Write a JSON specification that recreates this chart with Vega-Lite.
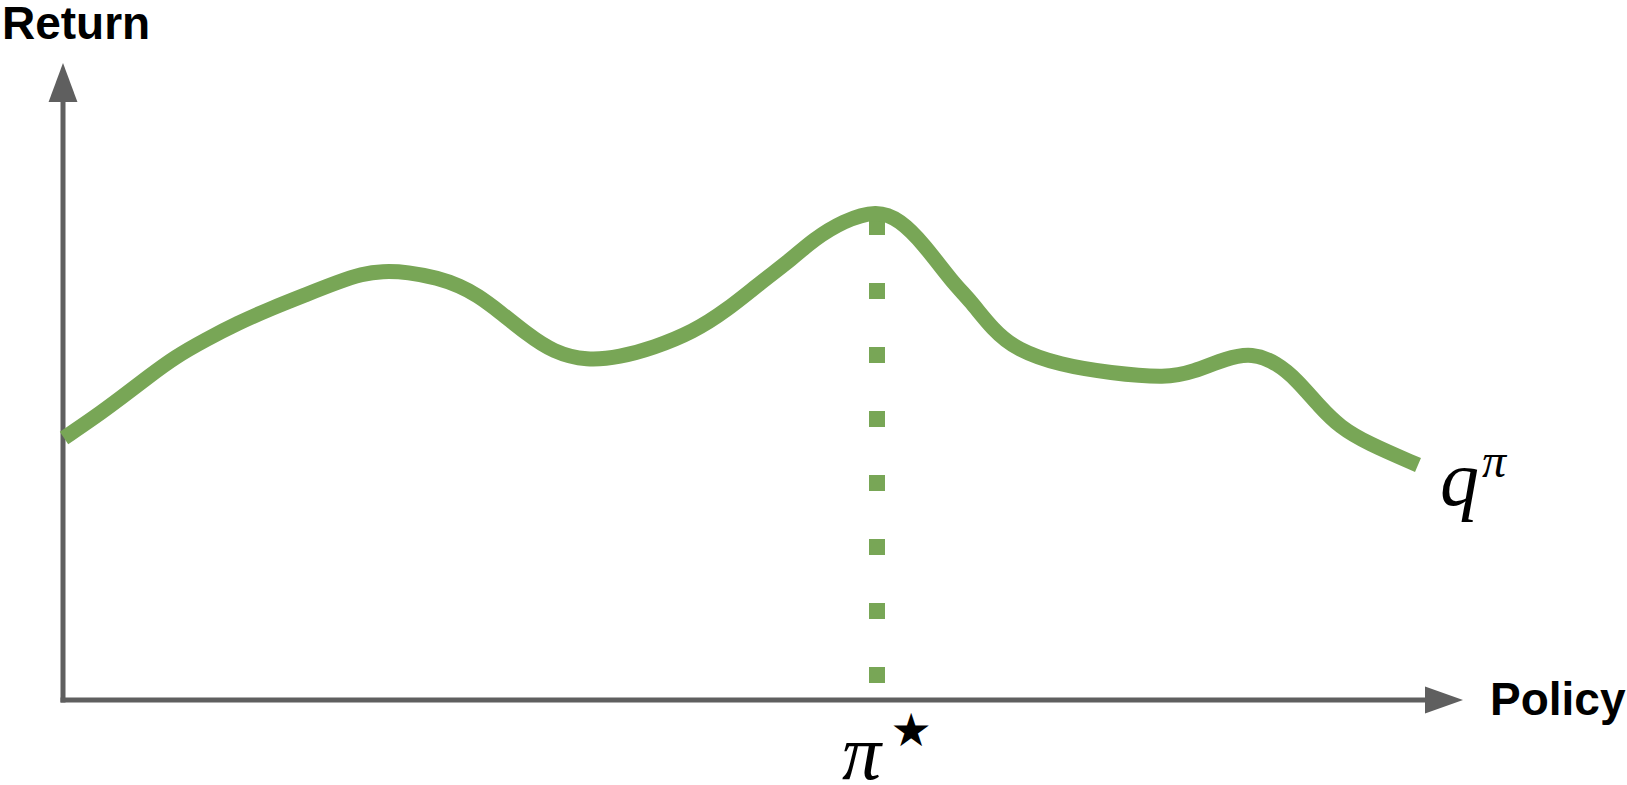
{
  "$schema": "https://vega.github.io/schema/vega-lite/v6.json",
  "width": 1627,
  "height": 785,
  "autosize": "none",
  "padding": 0,
  "background": "white",
  "config": {"view": {"stroke": null}},
  "datasets": {
    "curve": [
      {"policy": 1, "ret": 262}, {"policy": 32, "ret": 283}, {"policy": 59, "ret": 303}, {"policy": 85, "ret": 323},
      {"policy": 112, "ret": 343}, {"policy": 142, "ret": 360}, {"policy": 175, "ret": 377}, {"policy": 209, "ret": 392},
      {"policy": 242, "ret": 405}, {"policy": 275, "ret": 418}, {"policy": 299, "ret": 426}, {"policy": 319, "ret": 429},
      {"policy": 345, "ret": 428}, {"policy": 375, "ret": 422}, {"policy": 397, "ret": 414}, {"policy": 414, "ret": 405},
      {"policy": 437, "ret": 388}, {"policy": 464, "ret": 366}, {"policy": 490, "ret": 348}, {"policy": 524, "ret": 339},
      {"policy": 557, "ret": 343}, {"policy": 590, "ret": 352}, {"policy": 630, "ret": 368}, {"policy": 664, "ret": 390},
      {"policy": 697, "ret": 417}, {"policy": 730, "ret": 442}, {"policy": 750, "ret": 460}, {"policy": 780, "ret": 479},
      {"policy": 814, "ret": 490}, {"policy": 837, "ret": 480}, {"policy": 860, "ret": 457}, {"policy": 890, "ret": 417},
      {"policy": 907, "ret": 400}, {"policy": 930, "ret": 370}, {"policy": 954, "ret": 350}, {"policy": 997, "ret": 335},
      {"policy": 1047, "ret": 327}, {"policy": 1104, "ret": 322}, {"policy": 1130, "ret": 328}, {"policy": 1164, "ret": 342},
      {"policy": 1189, "ret": 347}, {"policy": 1214, "ret": 337}, {"policy": 1234, "ret": 320}, {"policy": 1257, "ret": 293},
      {"policy": 1277, "ret": 273}, {"policy": 1304, "ret": 257}, {"policy": 1355, "ret": 235}
    ],
    "axes": [
      {"name": "return", "x": 0, "x2": 0, "y": -2.5, "y2": 600},
      {"name": "policy", "x": -2.5, "x2": 1365, "y": 0, "y2": 0}
    ],
    "optimum": [{"policy": 814, "low": 17, "high": 485}],
    "titles": [
      {"text": "Return", "x": -61, "y": 661},
      {"text": "Policy", "x": 1427, "y": -15}
    ]
  },
  "layer": [
    {
      "data": {"name": "axes"},
      "mark": {"type": "rule", "color": "#5f5f5f", "strokeWidth": 5, "strokeCap": "butt"},
      "encoding": {
        "x": {"field": "x", "type": "quantitative", "scale": {"domain": [-63, 1564], "nice": false, "zero": false}, "axis": null},
        "x2": {"field": "x2"},
        "y": {"field": "y", "type": "quantitative", "scale": {"domain": [-85, 700], "nice": false, "zero": false}, "axis": null},
        "y2": {"field": "y2"}
      }
    },
    {
      "data": {"values": [{"x": 0, "y": 617.5}]},
      "mark": {"type": "point", "shape": "M0,-1L-0.74,1L0.74,1Z", "size": 1521, "filled": true, "color": "#5f5f5f", "opacity": 1},
      "encoding": {
        "x": {"field": "x", "type": "quantitative", "axis": null},
        "y": {"field": "y", "type": "quantitative", "axis": null}
      }
    },
    {
      "data": {"values": [{"x": 1381, "y": 0}]},
      "mark": {"type": "point", "shape": "M1,0L-1,-0.71L-1,0.71Z", "size": 1444, "filled": true, "color": "#5f5f5f", "opacity": 1},
      "encoding": {
        "x": {"field": "x", "type": "quantitative", "axis": null},
        "y": {"field": "y", "type": "quantitative", "axis": null}
      }
    },
    {
      "data": {"name": "optimum"},
      "mark": {"type": "rule", "color": "#78a656", "strokeWidth": 16, "strokeDash": [16, 48], "strokeCap": "butt"},
      "encoding": {
        "x": {"field": "policy", "type": "quantitative", "axis": null},
        "y": {"field": "low", "type": "quantitative", "axis": null},
        "y2": {"field": "high"}
      }
    },
    {
      "data": {"name": "curve"},
      "mark": {"type": "line", "color": "#78a656", "strokeWidth": 15, "interpolate": "basis", "strokeCap": "butt", "strokeJoin": "round"},
      "encoding": {
        "x": {"field": "policy", "type": "quantitative", "axis": null},
        "y": {"field": "ret", "type": "quantitative", "axis": null}
      }
    },
    {
      "data": {"name": "titles"},
      "mark": {"type": "text", "font": "Liberation Sans", "fontWeight": "bold", "fontSize": 46, "align": "left", "baseline": "alphabetic", "color": "black"},
      "encoding": {
        "x": {"field": "x", "type": "quantitative", "axis": null},
        "y": {"field": "y", "type": "quantitative", "axis": null},
        "text": {"field": "text"}
      }
    },
    {
      "data": {"values": [{"text": "π", "x": 779, "y": -79}, {"text": "q", "x": 1377, "y": 195}]},
      "mark": {"type": "text", "font": "Liberation Serif", "fontStyle": "italic", "fontSize": 78, "align": "left", "baseline": "alphabetic", "color": "black"},
      "encoding": {
        "x": {"field": "x", "type": "quantitative", "axis": null},
        "y": {"field": "y", "type": "quantitative", "axis": null},
        "text": {"field": "text"}
      }
    },
    {
      "data": {"values": [{"text": "π", "x": 1419, "y": 223}]},
      "mark": {"type": "text", "font": "Liberation Serif", "fontStyle": "italic", "fontSize": 48, "align": "left", "baseline": "alphabetic", "color": "black"},
      "encoding": {
        "x": {"field": "x", "type": "quantitative", "axis": null},
        "y": {"field": "y", "type": "quantitative", "axis": null},
        "text": {"field": "text"}
      }
    },
    {
      "data": {"values": [{"text": "★", "x": 848, "y": -32}]},
      "mark": {"type": "text", "font": "DejaVu Sans", "fontSize": 46, "align": "center", "baseline": "middle", "color": "black"},
      "encoding": {
        "x": {"field": "x", "type": "quantitative", "axis": null},
        "y": {"field": "y", "type": "quantitative", "axis": null},
        "text": {"field": "text"}
      }
    }
  ]
}
